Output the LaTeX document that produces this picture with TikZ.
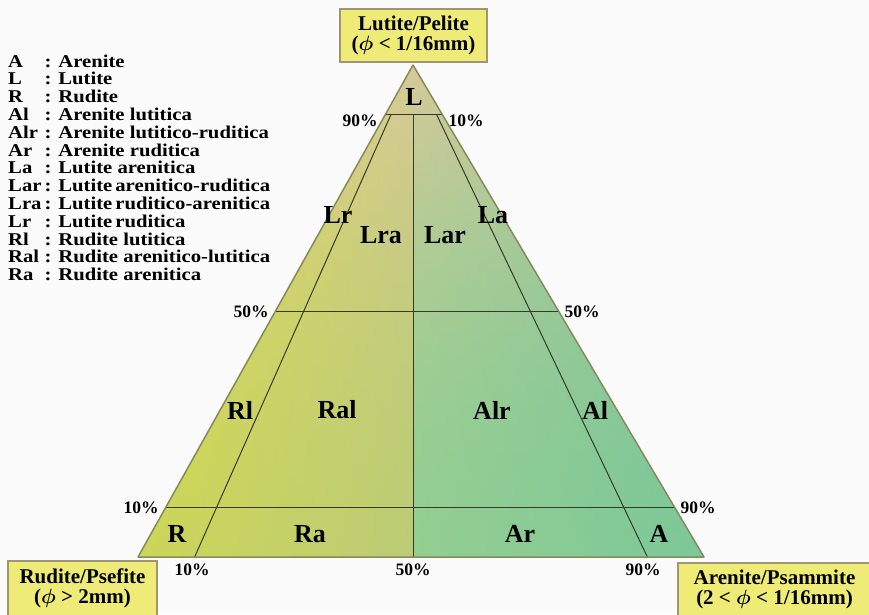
\documentclass[tikz,border=0pt]{standalone}
\usepackage{fontspec}
\setmainfont{Liberation Serif}
\newfontfamily\keyfont[FakeStretch=1.15]{Liberation Serif}
\usetikzlibrary{calc}

\definecolor{paper}{RGB}{251,251,251}
\definecolor{tanc}{RGB}{214,202,152}
\definecolor{rudbot}{RGB}{205,214,88}
\definecolor{rudmid}{RGB}{188,204,118}
\definecolor{arenmid}{RGB}{148,206,145}
\definecolor{arenbot}{RGB}{125,200,152}
\definecolor{boxfill}{RGB}{238,236,118}
\definecolor{boxline}{RGB}{160,150,118}
\definecolor{rim}{RGB}{135,138,92}
\definecolor{gridc}{RGB}{55,58,40}

\tikzset{
  endbox/.style={draw=boxline, line width=1.5pt, fill=boxfill, inner sep=0pt, align=center,
    font=\fontsize{21}{20}\selectfont\bfseries},
  field/.style={inner sep=0pt, font=\fontsize{26}{26}\selectfont\bfseries},
  pct/.style={inner sep=0pt, font=\fontsize{17.5}{18}\selectfont\bfseries},
  grid/.style={line width=1pt, gridc},
}

\begin{document}
\begin{tikzpicture}[x=1pt,y=-1pt]
\useasboundingbox[fill=paper] (0,0) rectangle (869,614);

% corners of the triangle
\coordinate (L) at (413,65);
\coordinate (R) at (138,557);
\coordinate (A) at (704,557);

% colour bands, bottom to top
\begin{scope}
\clip (L) -- (R) -- (A) -- cycle;
\foreach \i in {0,...,40}{
  \pgfmathsetmacro\tb{\i*12/492}
  \pgfmathsetmacro\yb{557-12*\i}
  \pgfmathsetmacro\yt{\yb-13}
  \pgfmathsetmacro\xl{138+275*\tb-1}
  \pgfmathsetmacro\xr{704-291*\tb+1}
  \pgfmathtruncatemacro\f{100*min(1,(\tb+0.0122)^1.8)}
  \colorlet{c1}{tanc!\f!rudbot}
  \colorlet{c2}{tanc!\f!rudmid}
  \colorlet{c3}{tanc!\f!arenmid}
  \colorlet{c4}{tanc!\f!arenbot}
  \shade[left color=c1, right color=c2] (\xl,\yb) rectangle (413,\yt);
  \shade[left color=c3, right color=c4] (413,\yb) rectangle (\xr,\yt);
}
\end{scope}

% 10%, 50% and 90% lines
\draw[grid] ($(R)!0.1!(L)$) -- ($(A)!0.1!(L)$);
\draw[grid] ($(R)!0.5!(L)$) -- ($(A)!0.5!(L)$);
\draw[grid] ($(R)!0.9!(L)$) -- ($(A)!0.9!(L)$);
\coordinate (b10) at ($(R)!0.1!(A)$);
\coordinate (b50) at (L |- R);
\coordinate (b90) at ($(R)!0.9!(A)$);
\foreach \b in {b10,b50,b90}
  \draw[grid] (\b) -- ($(\b)!0.9!(L)$);
\draw[rim, line width=1.5pt, line join=round] (L) -- (R) -- (A) -- cycle;

% end members
\node[endbox, minimum width=147pt, minimum height=53pt] (lutite) at (413.5,35.5)
  {Lutite/Pelite\\({\boldmath$\phi$} < 1/16mm)};
\node[endbox, minimum width=149pt, minimum height=55pt] (rudite) at (82.5,588.5)
  {Rudite/Psefite\\({\boldmath$\phi$} > 2mm)};
\node[endbox, minimum width=193pt, minimum height=53pt] (arenite) at (774.5,589.5)
  {Arenite/Psammite\\(2 < {\boldmath$\phi$} < 1/16mm)};

% percentages
\node[pct] (p90l) at (360,121) {90\%};
\node[pct] (p10r) at (466,121) {10\%};
\node[pct] (p50l) at (251,312) {50\%};
\node[pct] (p50r) at (582,312) {50\%};
\node[pct] (p10l) at (141,508) {10\%};
\node[pct] (p90r) at (698,508) {90\%};
\node[pct] (b10t) at (192,570) {10\%};
\node[pct] (b50t) at (413,570) {50\%};
\node[pct] (b90t) at (643,570) {90\%};

% fields
\node[field] (fL)   at (414,97)  {L};
\node[field] (fLr)  at (338,215) {Lr};
\node[field] (fLra) at (381,235) {Lra};
\node[field] (fLar) at (445,235) {Lar};
\node[field] (fLa)  at (493,215) {La};
\node[field] (fRl)  at (240,410) {Rl};
\node[field] (fRal) at (337,410) {Ral};
\node[field] (fAlr) at (492,410) {Alr};
\node[field] (fAl)  at (595,410) {Al};
\node[field] (fR)   at (177,534) {R};
\node[field] (fRa)  at (310,534) {Ra};
\node[field] (fAr)  at (520,534) {Ar};
\node[field] (fA)   at (659,534) {A};

% key
\node[anchor=base west, inner sep=0pt, font=\keyfont\fontsize{18}{17.75}\selectfont\bfseries] (key) at (8,67)
  {\begin{tabular}[t]{@{}l@{\,}l@{}}
  A   & : Arenite\\
  L   & : Lutite\\
  R   & : Rudite\\
  Al  & : Arenite lutitica\\
  Alr & : Arenite lutitico-ruditica\\
  Ar  & : Arenite ruditica\\
  La  & : Lutite arenitica\\
  Lar & : Lutite\,arenitico-ruditica\\
  Lra & : Lutite\,ruditico-arenitica\\
  Lr  & : Lutite\,ruditica\\
  Rl  & : Rudite lutitica\\
  Ral & : Rudite arenitico-lutitica\\
  Ra  & : Rudite arenitica
  \end{tabular}};
\end{tikzpicture}
\end{document}
